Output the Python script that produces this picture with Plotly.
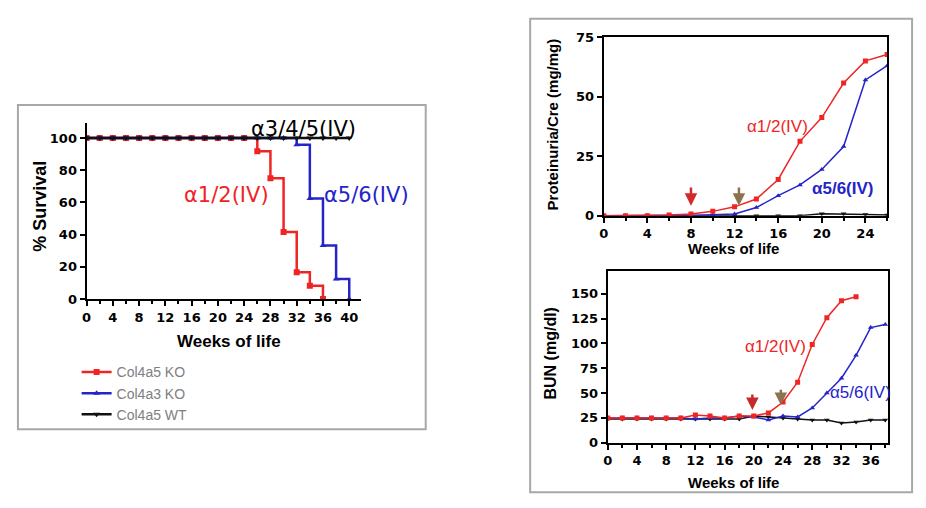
import plotly.graph_objects as go

W, H = 926, 508
def px(x): return x / W
def py(y): return 1 - y / H

# ---------------- Survival (left) ----------------
surv_weeks_ko5 = [0, 2, 4, 6, 8, 10, 12, 14, 16, 18, 20, 22, 24, 26, 28, 30, 32, 34, 36]
surv_ko5 = [100, 100, 100, 100, 100, 100, 100, 100, 100, 100, 100, 100, 100, 91.7, 75, 41.7, 16.7, 8.3, 0]
surv_weeks_ko3 = [0, 2, 4, 6, 8, 10, 12, 14, 16, 18, 20, 22, 24, 26, 28, 30, 32, 34, 36, 38, 40]
surv_ko3 = [100, 100, 100, 100, 100, 100, 100, 100, 100, 100, 100, 100, 100, 100, 100, 100, 95.8, 62.5, 33.3, 12.5, 0]
surv_weeks_wt = [0, 2, 4, 6, 8, 10, 12, 14, 16, 18, 20, 22, 24, 26, 28, 30, 32, 34, 36, 38, 40]
surv_wt = [100] * 21

# ---------------- Proteinuria (top right) ----------------
prot_weeks = [0, 2, 4, 6, 8, 10, 12, 14, 16, 18, 20, 22, 24, 26]
prot_a12 = [0, 0, 0, 0.3, 0.7, 1.8, 3.7, 7, 15.2, 31.2, 41.2, 55.7, 65, 67.7]
prot_a56 = [0, 0, 0, 0, 0.2, 0.4, 0.7, 3.4, 8.4, 12.9, 19.4, 29, 57, 63]
prot_wt = [0, 0, 0, 0, 0, 0, 0, 0, 0, 0, 0.8, 0.8, 0.5, 0.3]

# ---------------- BUN (bottom right) ----------------
bun_weeks_a12 = [0, 2, 4, 6, 8, 10, 12, 14, 16, 18, 20, 22, 24, 26, 28, 30, 32, 34]
bun_a12 = [25, 25, 25, 25, 25, 25, 28, 27, 25, 27, 27, 30, 41, 61, 99, 126, 143, 147]
bun_weeks = [0, 2, 4, 6, 8, 10, 12, 14, 16, 18, 20, 22, 24, 26, 28, 30, 32, 34, 36, 38]
bun_a56 = [25, 25, 25, 25, 25, 25, 24, 25, 25, 27, 26, 23, 27, 26, 35, 50, 65, 88, 116, 119]
bun_wt = [24, 24, 24, 24, 24, 24, 24, 24, 24, 24, 27, 26, 25, 24, 23, 23, 20, 21, 23, 23]

RED = "#f02424"
BLUE = "#2424c8"
BLACK = "#111111"

fig = go.Figure()

fig.add_trace(go.Scatter(x=surv_weeks_ko5, y=surv_ko5, mode="lines+markers", line_shape="hv",
                         name="Col4a5 KO", line=dict(color=RED, width=2.5),
                         marker=dict(symbol="square", size=6, color=RED),
                         xaxis="x", yaxis="y"))
fig.add_trace(go.Scatter(x=surv_weeks_ko3, y=surv_ko3, mode="lines+markers", line_shape="hv",
                         name="Col4a3 KO", line=dict(color=BLUE, width=2.5),
                         marker=dict(symbol="triangle-up", size=6, color=BLUE),
                         xaxis="x", yaxis="y"))
fig.add_trace(go.Scatter(x=surv_weeks_wt, y=surv_wt, mode="lines+markers", line_shape="hv",
                         name="Col4a5 WT", line=dict(color=BLACK, width=2.5),
                         marker=dict(symbol="triangle-down", size=6, color=BLACK),
                         xaxis="x", yaxis="y"))

fig.add_trace(go.Scatter(x=prot_weeks, y=prot_wt, mode="lines+markers", showlegend=False,
                         line=dict(color=BLACK, width=1.5),
                         marker=dict(symbol="triangle-down", size=5, color=BLACK),
                         xaxis="x2", yaxis="y2"))
fig.add_trace(go.Scatter(x=prot_weeks, y=prot_a56, mode="lines+markers", showlegend=False,
                         line=dict(color=BLUE, width=1.5),
                         marker=dict(symbol="triangle-up", size=5, color=BLUE),
                         xaxis="x2", yaxis="y2"))
fig.add_trace(go.Scatter(x=prot_weeks, y=prot_a12, mode="lines+markers", showlegend=False,
                         line=dict(color=RED, width=1.5),
                         marker=dict(symbol="square", size=5, color=RED),
                         xaxis="x2", yaxis="y2"))

fig.add_trace(go.Scatter(x=bun_weeks, y=bun_wt, mode="lines+markers", showlegend=False,
                         line=dict(color=BLACK, width=1.5),
                         marker=dict(symbol="triangle-down", size=5, color=BLACK),
                         xaxis="x3", yaxis="y3"))
fig.add_trace(go.Scatter(x=bun_weeks, y=bun_a56, mode="lines+markers", showlegend=False,
                         line=dict(color=BLUE, width=1.5),
                         marker=dict(symbol="triangle-up", size=5, color=BLUE),
                         xaxis="x3", yaxis="y3"))
fig.add_trace(go.Scatter(x=bun_weeks_a12, y=bun_a12, mode="lines+markers", showlegend=False,
                         line=dict(color=RED, width=1.5),
                         marker=dict(symbol="square", size=5, color=RED),
                         xaxis="x3", yaxis="y3"))

tickfont = dict(family="DejaVu Sans", size=13, color="black", weight="bold")

def xax(domain, rng, dtick, mirror=False):
    return dict(domain=domain, range=rng, dtick=dtick, tick0=0, showgrid=False, zeroline=False,
                showline=True, linecolor="black", linewidth=2, mirror=mirror,
                ticks="outside", ticklen=5, tickwidth=2, tickcolor="black",
                minor=dict(dtick=dtick / 2, ticks="outside", ticklen=3, tickwidth=1.5, tickcolor="black"),
                tickfont=tickfont, fixedrange=True)

def yax(domain, rng, dtick, anchor, mirror=False):
    return dict(domain=domain, range=rng, dtick=dtick, tick0=0, showgrid=False, zeroline=False,
                showline=True, linecolor="black", linewidth=2, mirror=mirror, anchor=anchor,
                ticks="outside", ticklen=5, tickwidth=2, tickcolor="black",
                tickfont=tickfont, fixedrange=True)

layout = dict(
    width=W, height=H, margin=dict(l=0, r=0, t=0, b=0),
    paper_bgcolor="white", plot_bgcolor="rgba(0,0,0,0)",
    xaxis=xax([px(82), px(358)], [0, 41.8], 4) | dict(anchor="y"),
    yaxis=yax([py(301), py(120)], [0, 109], 20, "x"),
    xaxis2=xax([px(602), px(887)], [0, 26], 4, mirror=True) | dict(anchor="y2"),
    yaxis2=yax([py(215), py(31)], [0, 75], 25, "x2", mirror=True),
    xaxis3=xax([px(606), px(888)], [0, 38.4], 4, mirror=True) | dict(anchor="y3"),
    yaxis3=yax([py(449), py(272)], [0, 173], 25, "x3", mirror=True),
    showlegend=True,
    legend=dict(x=px(72), y=py(360), xanchor="left", yanchor="top",
                font=dict(family="Arial", size=14, color="#808080"),
                itemwidth=30, tracegroupgap=0, bgcolor="rgba(0,0,0,0)"),
)
fig.update_layout(**layout)

fig.add_shape(type="rect", xref="paper", yref="paper", x0=px(13), y0=py(435), x1=px(423), y1=py(101),
              line=dict(color="#a8a8a8", width=2))
fig.add_shape(type="rect", xref="paper", yref="paper", x0=px(528), y0=py(500), x1=px(912), y1=py(12),
              line=dict(color="#a8a8a8", width=2))

ann = []
def txt(x, y, s, size, color="black", bold=False, family="DejaVu Sans", angle=0):
    ann.append(dict(x=px(x), y=py(y), xref="paper", yref="paper", text=s, showarrow=False,
                    textangle=angle, xanchor="center", yanchor="middle",
                    font=dict(family=family, size=size, color=color, weight="bold" if bold else "normal")))

txt(225, 345, "Weeks of life", 17, bold=True, family="Arial")
txt(35, 205, "% Survival", 18, bold=True, family="Arial", angle=-90)
txt(300, 126, "α3/4/5(IV)", 21)
txt(223, 194, "α1/2(IV)", 21, color=RED)
txt(363, 194, "α5/6(IV)", 21, color=BLUE)

txt(550, 121, "Proteinuria/Cre (mg/mg)", 15, bold=True, family="Arial", angle=-90)
txt(732, 249, "Weeks of life", 15, bold=True, family="Arial")
txt(777, 123, "α1/2(IV)", 17, color=RED, family="Arial")
txt(842, 187, "α5/6(IV)", 17, color=BLUE, bold=True, family="Arial")

txt(548, 357, "BUN (mg/dl)", 16, bold=True, family="Arial", angle=-90)
txt(732, 490, "Weeks of life", 15, bold=True, family="Arial")
txt(775, 350, "α1/2(IV)", 17, color=RED, family="Arial")
txt(860, 397, "α5/6(IV)", 17, color=BLUE, family="Arial")

def arrow(xa, x, y0, y1, color):
    ya = "y" + xa[1:]
    ann.append(dict(x=x, y=y1, ax=x, ay=y0, xref=xa, yref=ya, axref=xa, ayref=ya,
                    text="", showarrow=True, arrowhead=2, arrowsize=1, arrowwidth=2.5, arrowcolor=color))

arrow("x2", 8, 12.5, 4.2, "#d22a2a")
arrow("x2", 12.4, 12.5, 4.2, "#8c7350")
arrow("x3", 19.8, 50, 33, "#c42a2a")
arrow("x3", 23.7, 55, 38, "#8c7350")

fig.update_layout(annotations=ann)
ps = """
var gd=document.getElementById('{plot_id}');
document.body.style.margin='0px';
Plotly.relayout(gd, {'paper_bgcolor': '#ffffff'});
"""
fig.write_html("out.html", config={"displayModeBar": False}, post_script=ps)
